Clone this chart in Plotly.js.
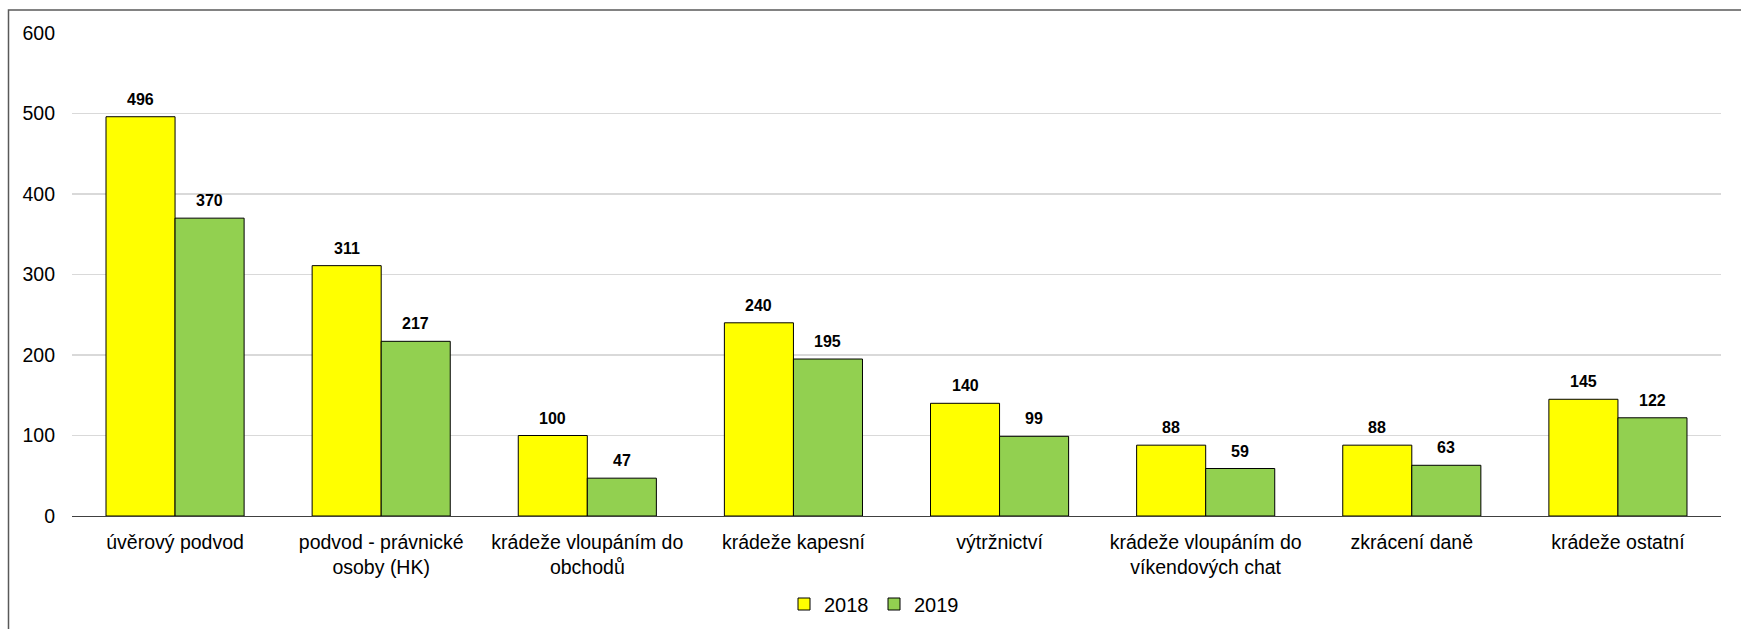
<!DOCTYPE html>
<html>
<head>
<meta charset="utf-8">
<script src="https://cdn.plot.ly/plotly-3.0.1.min.js"></script>
<style>
html,body{margin:0;padding:0;background:#fff;}
#chart{width:1741px;height:629px;}
</style>
</head>
<body>
<div id="chart"></div>
<script>
const categories = [
  "úvěrový podvod",
  "podvod - právnické<br>osoby (HK)",
  "krádeže vloupáním do<br>obchodů",
  "krádeže kapesní",
  "výtržnictví",
  "krádeže vloupáním do<br>víkendových chat",
  "zkrácení daně",
  "krádeže ostatní"
];
const values2018 = [496, 311, 100, 240, 140, 88, 88, 145];
const values2019 = [370, 217, 47, 195, 99, 59, 63, 122];
const seriesNames = ["2018", "2019"];
const tickValues = [0, 100, 200, 300, 400, 500, 600];

const W = 1741, H = 629;
const mL = 72, mR = 20, mT = 33, mB = 113;
const plotW = W - mL - mR, plotH = H - mT - mB;
const barW = (plotW / categories.length) * (1 - 0.33) / 2;

const font = "Liberation Sans, Arial, sans-serif";

const traces = [
  {type: "bar", name: seriesNames[0], x: categories, y: values2018,
   marker: {color: "#FFFF00", line: {color: "#000000", width: 1}}, hoverinfo: "y"},
  {type: "bar", name: seriesNames[1], x: categories, y: values2019,
   marker: {color: "#92D050", line: {color: "#000000", width: 1}}, hoverinfo: "y"}
];

const annotations = [];
[values2018, values2019].forEach((vals, si) => {
  vals.forEach((v, i) => {
    annotations.push({
      x: categories[i], y: v, xref: "x", yref: "y",
      text: String(v), showarrow: false,
      xshift: (si === 0 ? -1 : 1) * barW / 2,
      yanchor: "bottom", yshift: 7,
      font: {family: font, size: 16, color: "#000000", weight: "bold"}
    });
  });
});

const px2x = p => (p - mL) / plotW;
const py2y = p => (H - mB - p) / plotH;
const shapes = [{
  type: "rect", xref: "paper", yref: "paper",
  x0: px2x(8.5), x1: px2x(W + 10), y0: py2y(10), y1: py2y(H + 10),
  line: {color: "#595959", width: 1.5}, fillcolor: "rgba(0,0,0,0)", layer: "above"
}];

const layout = {
  width: W, height: H,
  margin: {l: mL, r: mR, t: mT, b: mB, pad: 0, autoexpand: false},
  paper_bgcolor: "#ffffff", plot_bgcolor: "#ffffff",
  font: {family: font, size: 19.5, color: "#000000"},
  barmode: "group", bargap: 0.33, bargroupgap: 0,
  showlegend: true,
  legend: {orientation: "h", xref: "container", yref: "container",
           x: 874 / W, xanchor: "center", y: (H - 604) / H, yanchor: "middle",
           font: {family: font, size: 20, color: "#000000"}, itemwidth: 30,
           entrywidth: 45, entrywidthmode: "pixels",
           bgcolor: "rgba(0,0,0,0)", traceorder: "normal"},
  xaxis: {type: "category", showgrid: false, showline: true, linecolor: "#404040", linewidth: 1.3,
          ticks: "", tickfont: {family: font, size: 19.5, color: "#000000"}, zeroline: false,
          fixedrange: true, ticklabelstandoff: 8, automargin: false},
  yaxis: {range: [0, 600], tickvals: tickValues, ticktext: tickValues.map(String),
          showgrid: true, gridcolor: "#D9D9D9", gridwidth: 1.3, zeroline: false, showline: false,
          ticks: "", tickfont: {family: font, size: 19.5, color: "#000000"}, ticklabelstandoff: 16,
          fixedrange: true, automargin: false},
  annotations: annotations,
  shapes: shapes
};

Plotly.newPlot("chart", traces, layout, {displayModeBar: false, staticPlot: true});
</script>
</body>
</html>
